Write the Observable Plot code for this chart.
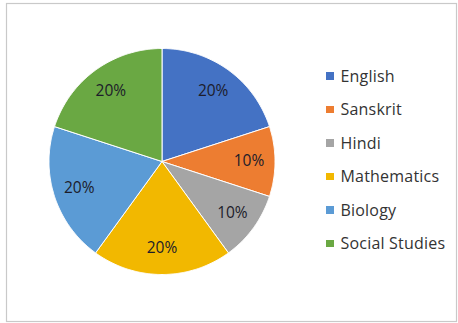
<!DOCTYPE html>
<html>
<head>
<meta charset="utf-8">
<script src="https://cdn.jsdelivr.net/npm/d3@7"></script>
<script src="https://cdn.jsdelivr.net/npm/@observablehq/plot@0.6"></script>
<style>
  html, body { margin: 0; padding: 0; background: #fff; }
  #wrap { position: relative; width: 458px; height: 323px; }
  #legend { position: absolute; left: 326px; top: 59px; font-family: "Open Sans", sans-serif; font-size: 16px; letter-spacing: 0.2px; color: #333; }
  .item { display: flex; align-items: center; height: 33.5px; white-space: nowrap; }
  .sw { width: 7.5px; height: 7.5px; margin-right: 7px; flex: none; }
</style>
</head>
<body>
<div id="wrap"></div>
<script>
const subjects = ["English", "Sanskrit", "Hindi", "Mathematics", "Biology", "Social Studies"];
const shares = [20, 10, 10, 20, 20, 20];
const labels = ["20%", "10%", "10%", "20%", "20%", "20%"];
const colors = ["#4472C4", "#ED7D31", "#A5A5A5", "#F2B800", "#5B9BD5", "#6AA843"];

const pie = d3.pie().sort(null).value(d => d.share)(subjects.map((s, i) => ({subject: s, share: shares[i], label: labels[i]})));

// polygon points for each slice (angle 0 at top, clockwise)
const pts = [];
for (const p of pie) {
  const s = p.data.subject;
  pts.push({subject: s, x: 0, y: 0});
  const n = Math.max(2, Math.ceil((p.endAngle - p.startAngle) / 0.01));
  for (let k = 0; k <= n; k++) {
    const a = p.startAngle + (p.endAngle - p.startAngle) * k / n;
    pts.push({subject: s, x: Math.sin(a), y: Math.cos(a)});
  }
  pts.push({subject: s, x: 0, y: 0});
}
const lab = pie.map(p => {
  const a = (p.startAngle + p.endAngle) / 2;
  return {subject: p.data.subject, label: p.data.label, x: 0.77 * Math.sin(a), y: 0.77 * Math.cos(a)};
});

const R = 113, cx = 161.5, cy = 161;
const W = 458, H = 323, mL = 6, mR = 2, mT = 3, mB = 2;

const chart = Plot.plot({
  width: W, height: H,
  marginLeft: mL, marginRight: mR, marginTop: mT, marginBottom: mB,
  style: {background: "#fff", fontFamily: "'Open Sans', sans-serif"},
  x: {domain: [-(cx - mL) / R, (W - mR - cx) / R], axis: null},
  y: {domain: [-(H - mB - cy) / R, (cy - mT) / R], axis: null},
  color: {domain: subjects, range: colors},
  marks: [
    Plot.frame({stroke: "#c9c9c9", strokeWidth: 1.2}),
    Plot.line(pts, {x: "x", y: "y", z: "subject", fill: "subject", stroke: "#fff", strokeWidth: 1, curve: "linear"}),
    Plot.text(lab, {x: "x", y: "y", text: "label", fill: "#1c1c2a", fontSize: 15.5, fontFamily: "'Open Sans', sans-serif"})
  ]
});

const wrap = document.getElementById("wrap");
wrap.appendChild(chart);
const leg = document.createElement("div");
leg.id = "legend";
subjects.forEach((s, i) => {
  const it = document.createElement("div");
  it.className = "item";
  const sw = document.createElement("span");
  sw.className = "sw";
  sw.style.background = colors[i];
  const t = document.createElement("span");
  t.textContent = s;
  it.appendChild(sw); it.appendChild(t);
  leg.appendChild(it);
});
wrap.appendChild(leg);
</script>
</body>
</html>
